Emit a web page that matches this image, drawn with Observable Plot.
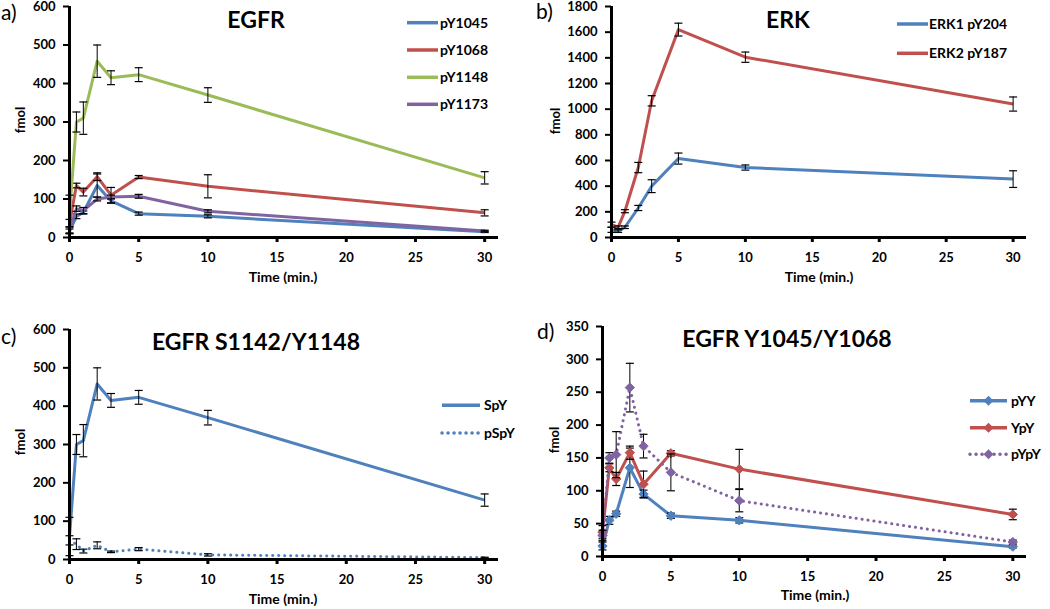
<!DOCTYPE html>
<html><head><meta charset="utf-8">
<script src="https://cdn.jsdelivr.net/npm/d3@7"></script>
<script src="https://cdn.jsdelivr.net/npm/@observablehq/plot@0.6"></script>
<style>
body{margin:0;background:#fff;}
#page{position:relative;width:1050px;height:609px;overflow:hidden;background:#fff;}
.panel{position:absolute;}
.panel svg{display:block;overflow:visible;}
.panel svg text{font-family:Lato,'Open Sans',sans-serif;font-weight:bold;}
</style>
</head><body>
<div id="page">
  <div class="panel" id="pa" style="left:0;top:0"></div>
  <div class="panel" id="pb" style="left:520px;top:0"></div>
  <div class="panel" id="pc" style="left:0;top:300px"></div>
  <div class="panel" id="pd" style="left:520px;top:300px"></div>
</div>
<script>
// ---- data ----
const times = [0, 0.5, 1, 2, 3, 5, 10, 30];
const xTicks = [0, 5, 10, 15, 20, 25, 30];

// a) EGFR
const pY1045 = [16, 55, 65, 135, 95, 62, 55, 15];
const pY1045Err = [6, 6, 4, 30, 6, 4, 4, 2];
const pY1068 = [37, 135, 118, 158, 110, 157, 133, 64];
const pY1068Err = [10, 6, 10, 10, 20, 4, 30, 8];
const pY1148 = [60, 300, 310, 458, 415, 423, 370, 155];
const pY1148Err = [50, 26, 42, 42, 18, 18, 19, 16];
const pY1173 = [20, 75, 70, 100, 105, 107, 68, 17];
const pY1173Err = [8, 7, 8, 5, 5, 5, 4, 2];
const egfrYTicks = [0, 100, 200, 300, 400, 500, 600];

// b) ERK
const erk1 = [60, 50, 80, 230, 400, 615, 545, 455];
const erk1Err = [20, 10, 10, 20, 50, 43, 20, 65];
const erk2 = [100, 80, 205, 545, 1065, 1620, 1405, 1040];
const erk2Err = [20, 10, 12, 40, 40, 50, 40, 55];
const erkYTicks = [0, 200, 400, 600, 800, 1000, 1200, 1400, 1600, 1800];

// c) EGFR S1142/Y1148
const SpY = [60, 300, 310, 458, 415, 423, 370, 155];
const SpYErr = [50, 26, 42, 42, 18, 18, 19, 16];
const pSpY = [50, 40, 22, 37, 20, 27, 12, 5];
const pSpYErr = [12, 14, 5, 9, 2, 4, 3, 1];
const cYTicks = [0, 100, 200, 300, 400, 500, 600];

// d) EGFR Y1045/Y1068
const pYY = [16, 55, 65, 135, 95, 62, 55, 15];
const pYYErr = [6, 6, 4, 30, 6, 4, 4, 2];
const YpY = [37, 135, 118, 158, 110, 157, 133, 64];
const YpYErr = [10, 6, 10, 10, 20, 4, 30, 8];
const pYpY = [32, 150, 155, 257, 168, 128, 85, 22];
const pYpYErr = [8, 8, 35, 37, 18, 28, 17, 3];
const dYTicks = [0, 50, 100, 150, 200, 250, 300, 350];

// ---- styling ----
const BLUE = "#4F81BD", RED = "#C0504D", GREEN = "#9BBB59", PURPLE = "#8064A2";
const FONT = "Lato, 'Open Sans', sans-serif";
const DOTS = "0.1 5.9";
const cap = {draw(ctx, size){ const w = Math.sqrt(size / Math.PI); ctx.moveTo(-w, 0); ctx.lineTo(w, 0); }};

function rowsOf(s){
  return times.map((t, i) => ({t, v: s.values[i], lo: s.values[i] - s.errs[i], hi: s.values[i] + s.errs[i]}));
}

function panel(cfg){
  const marks = [
    Plot.axisY({ticks: cfg.yTicks, tickFormat: d3.format("d"), tickSize: 6, tickPadding: 8, strokeWidth: 2, label: null, fontSize: 13}),
    Plot.axisX({ticks: xTicks, tickFormat: d3.format("d"), tickSize: 5, tickPadding: 10, strokeWidth: 3, label: null, fontSize: 13})
  ];
  for (const s of cfg.series){
    const rows = rowsOf(s);
    marks.push(Plot.line(rows, {x: "t", y: "v", stroke: s.color, strokeWidth: 3, strokeDasharray: s.dotted ? DOTS : undefined, strokeLinecap: s.dotted ? "round" : "butt", strokeLinejoin: "round"}));
    marks.push(Plot.ruleX(rows, {x: "t", y1: "lo", y2: "hi", stroke: "black", strokeWidth: 1}));
    marks.push(Plot.dot(rows, {x: "t", y: "hi", symbol: cap, r: 4, fill: "none", stroke: "black", strokeWidth: 1.2}));
    marks.push(Plot.dot(rows, {x: "t", y: "lo", symbol: cap, r: 4, fill: "none", stroke: "black", strokeWidth: 1.2}));
    if (s.marker) marks.push(Plot.dot(rows, {x: "t", y: "v", symbol: "diamond2", r: 4.2, fill: s.color, stroke: s.color, strokeWidth: 1}));
  }
  marks.push(Plot.ruleX([0], {stroke: "black", strokeWidth: 3}));
  marks.push(Plot.ruleY([0], {stroke: "black", strokeWidth: 3}));
  const svg = Plot.plot({
    width: cfg.width, height: cfg.height,
    marginLeft: cfg.ml, marginRight: cfg.mr, marginTop: cfg.mt, marginBottom: cfg.mb,
    x: {domain: [0, 31]},
    y: {domain: cfg.yDomain},
    style: {fontFamily: FONT, fontSize: "13px", fontWeight: "bold", color: "black", background: "white", overflow: "visible"},
    marks
  });
  const g = d3.select(svg).append("g").attr("fill", "black").attr("text-anchor", "start");
  // panel letter
  g.append("text").attr("x", cfg.letter[1]).attr("y", cfg.letter[2]).attr("text-anchor", "start")
    .style("font-size", "21px").style("font-weight", "normal").text(cfg.letter[0]);
  // title
  g.append("text").attr("x", cfg.title[1]).attr("y", cfg.title[2]).attr("text-anchor", "middle").style("font-size", "23px").text(cfg.title[0]);
  // y label
  g.append("text").attr("transform", `translate(${cfg.ylab[0]},${cfg.ylab[1]}) rotate(-90)`).attr("text-anchor", "middle").style("font-size", "13px").text("fmol");
  // x label
  g.append("text").attr("x", cfg.xlab[0]).attr("y", cfg.xlab[1]).attr("text-anchor", "middle").style("font-size", "14px").text("Time (min.)");
  // legend
  const L = cfg.legend;
  cfg.series.forEach((s, i) => {
    const y = L.ys[i];
    g.append("line").attr("x1", L.x1).attr("x2", L.x2).attr("y1", y).attr("y2", y)
      .attr("stroke", s.color).attr("stroke-width", 3.5)
      .attr("stroke-dasharray", s.dotted ? DOTS : null)
      .attr("stroke-linecap", s.dotted ? "round" : "butt");
    if (s.marker) {
      const cx = (L.x1 + L.x2) / 2, r = 5;
      g.append("path").attr("d", `M${cx},${y - r}L${cx + r},${y}L${cx},${y + r}L${cx - r},${y}Z`).attr("fill", s.color);
    }
    g.append("text").attr("x", L.tx).attr("y", y).attr("dy", "0.35em").attr("text-anchor", "start").style("font-size", "14px").text(s.name);
  });
  document.getElementById(cfg.el).appendChild(svg);
}

panel({
  el: "pa", width: 525, height: 300, ml: 69, mr: 27, mt: 6, mb: 63,
  yDomain: [0, 600], yTicks: egfrYTicks,
  series: [
    {name: "pY1045", values: pY1045, errs: pY1045Err, color: BLUE},
    {name: "pY1068", values: pY1068, errs: pY1068Err, color: RED},
    {name: "pY1148", values: pY1148, errs: pY1148Err, color: GREEN},
    {name: "pY1173", values: pY1173, errs: pY1173Err, color: PURPLE}
  ],
  letter: ["a)", 1, 19.5], title: ["EGFR", 256, 28], ylab: [25, 120], xlab: [283, 282],
  legend: {x1: 407, x2: 438, tx: 440, ys: [22.7, 50, 77.3, 104.3]}
});

panel({
  el: "pb", width: 530, height: 300, ml: 91, mr: 24, mt: 6, mb: 63,
  yDomain: [0, 1800], yTicks: erkYTicks,
  series: [
    {name: "ERK1 pY204", values: erk1, errs: erk1Err, color: BLUE},
    {name: "ERK2 pY187", values: erk2, errs: erk2Err, color: RED}
  ],
  letter: ["b)", 16, 19], title: ["ERK", 268, 28], ylab: [40, 121], xlab: [299, 282],
  legend: {x1: 377, x2: 408, tx: 409, ys: [24, 53.3]}
});

panel({
  el: "pc", width: 525, height: 309, ml: 69, mr: 27, mt: 29, mb: 50,
  yDomain: [0, 600], yTicks: cYTicks,
  series: [
    {name: "SpY", values: SpY, errs: SpYErr, color: BLUE},
    {name: "pSpY", values: pSpY, errs: pSpYErr, color: BLUE, dotted: true}
  ],
  letter: ["c)", 1, 43.8], title: ["EGFR S1142/Y1148", 256, 50], ylab: [25, 142], xlab: [283, 304],
  legend: {x1: 442, x2: 480, tx: 484, ys: [105.3, 133]}
});

panel({
  el: "pd", width: 530, height: 309, ml: 82, mr: 24, mt: 26, mb: 53,
  yDomain: [0, 350], yTicks: dYTicks,
  series: [
    {name: "pYY", values: pYY, errs: pYYErr, color: BLUE, marker: true},
    {name: "YpY", values: YpY, errs: YpYErr, color: RED, marker: true},
    {name: "pYpY", values: pYpY, errs: pYpYErr, color: PURPLE, marker: true, dotted: true}
  ],
  letter: ["d)", 17, 38.8], title: ["EGFR Y1045/Y1068", 267, 47], ylab: [39, 140], xlab: [295, 300],
  legend: {x1: 450, x2: 487, tx: 491, ys: [100.7, 127.7, 154.3]}
});
</script>
</body></html>
